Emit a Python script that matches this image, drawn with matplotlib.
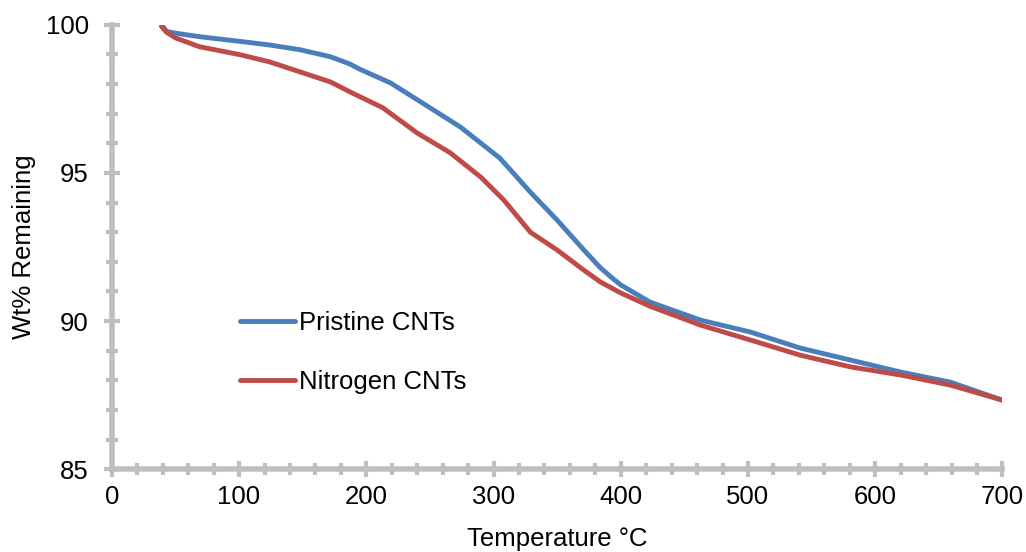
import numpy as np
import matplotlib.pyplot as plt
from matplotlib.ticker import MultipleLocator

plt.rcParams['font.family'] = ['Liberation Sans', 'DejaVu Sans']

# Pristine CNTs (temperature in C, weight % remaining)
pristine_t = [40, 43, 50, 69, 101, 124, 148, 172, 187, 195, 219, 242, 274, 305, 329,
              350, 371, 384, 392, 400, 423, 463, 502, 541, 581, 620, 659, 700]
pristine_w = [99.95, 99.78, 99.72, 99.6, 99.44, 99.32, 99.16, 98.92, 98.68, 98.5, 98.04,
              97.42, 96.55, 95.5, 94.35, 93.41, 92.4, 91.8, 91.5, 91.22, 90.64, 90.03,
              89.63, 89.09, 88.68, 88.28, 87.94, 87.33]

# Nitrogen CNTs
nitrogen_t = [39, 43, 50, 69, 101, 124, 148, 172, 187, 213, 240, 266, 290, 308, 329,
              350, 371, 384, 400, 423, 463, 502, 541, 581, 620, 659, 700]
nitrogen_w = [99.95, 99.75, 99.56, 99.26, 98.99, 98.75, 98.41, 98.07, 97.74, 97.2, 96.35,
              95.68, 94.86, 94.09, 93.0, 92.4, 91.72, 91.32, 90.95, 90.5, 89.86, 89.36,
              88.85, 88.45, 88.18, 87.84, 87.33]

fig = plt.figure(figsize=(10.26, 5.52), dpi=100)
ax = fig.add_axes([0.109, 0.150, 0.868, 0.805])

ax.plot(pristine_t, pristine_w, color='#4a7ebb', lw=3.5, label='Pristine CNTs',
        solid_capstyle='round')
ax.plot(nitrogen_t, nitrogen_w, color='#be4b48', lw=3.5, label='Nitrogen CNTs',
        solid_capstyle='round')

ax.set_xlim(0, 700)
ax.set_ylim(85, 100)
ax.xaxis.set_major_locator(MultipleLocator(100))
ax.xaxis.set_minor_locator(MultipleLocator(20))
ax.yaxis.set_major_locator(MultipleLocator(5))
ax.yaxis.set_minor_locator(MultipleLocator(1))

grey = '#bfbfbf'
for s in ['top', 'right']:
    ax.spines[s].set_visible(False)
for s in ['left', 'bottom']:
    ax.spines[s].set_color(grey)
    ax.spines[s].set_linewidth(4)
ax.tick_params(which='major', direction='inout', length=11, width=3, color=grey,
               labelsize=18.5)
ax.tick_params(which='minor', direction='inout', length=8.5, width=3, color=grey)
ax.tick_params(axis='x', which='major', pad=6)
ax.tick_params(axis='y', which='major', pad=11)

ax.set_xlabel('Temperature °C', fontsize=18.5, labelpad=13)
ax.set_ylabel('Wt% Remaining', fontsize=18.5, labelpad=7)

ax.legend(loc='upper left', bbox_to_anchor=(0.144, 0.357), frameon=False, fontsize=18.5,
          handlelength=2.15, handletextpad=0.15, labelspacing=1.38,
          borderpad=0, borderaxespad=0)

fig.savefig('out.png', dpi=100)
